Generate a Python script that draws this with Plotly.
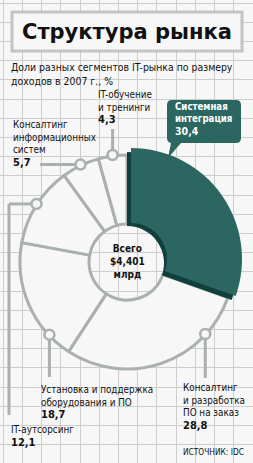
import math
import plotly.graph_objects as go

# ---------------- data ----------------
segments = [
    "Системная\nинтеграция",
    "Консалтинг\nи разработка\nПО на заказ",
    "Установка и поддержка\nоборудования и ПО",
    "IT-аутсорсинг",
    "Консалтинг\nинформационных\nсистем",
    "IT-обучение\nи тренинги",
]
shares = [30.4, 28.8, 18.7, 12.1, 5.7, 4.3]
total_lines = ["Всего", "$4,401", "млрд"]
title_text = "Структура рынка"
subtitle_lines = ["Доли разных сегментов IT-рынка по размеру", "доходов в 2007 г., %"]
source_text = "ИСТОЧНИК: IDC"

# ---------------- style / layout ----------------
W, H = 253, 463
BG = "#f7f7f7"
GRID = "#cdcdcd"
GRAY = "#a9b0ad"
TEAL = "#2b6660"
DARK = "#0f403c"
INK = "#111111"
TITLE_FONT = "DejaVu Sans, Liberation Sans, Arial, sans-serif"
COND = "DejaVu Sans Condensed, Liberation Sans, Arial, sans-serif"

CX, CY, R = 127, 262, 107      # white ring
HOLE_R = 38
TEAL_R = 111
SHIFT = (4, -4)

def dom(cx, cy, r):
    return dict(x=[(cx - r) / W, (cx + r) / W], y=[(H - cy - r) / H, (H - cy + r) / H])

fmt = [f"{v:.1f}".replace(".", ",") for v in shares]
n = len(shares)
clear = "rgba(0,0,0,0)"

fig = go.Figure()
fig.add_trace(go.Pie(
    values=shares, labels=segments, sort=False, direction="clockwise", rotation=0,
    hole=HOLE_R / R, domain=dom(CX, CY, R), textinfo="none", hoverinfo="skip",
    marker=dict(colors=[clear] + [BG] * (n - 1),
                line=dict(color=[clear] + [GRAY] * (n - 1), width=[0] + [3] * (n - 1))),
    showlegend=False,
))
fig.add_trace(go.Pie(
    values=shares, labels=segments, sort=False, direction="clockwise", rotation=0,
    hole=(HOLE_R - 1) / TEAL_R, domain=dom(CX, CY + 1, TEAL_R), textinfo="none", hoverinfo="skip",
    marker=dict(colors=[DARK] + [clear] * (n - 1), line=dict(width=0)),
    showlegend=False,
))
fig.add_trace(go.Pie(
    values=shares, labels=segments, sort=False, direction="clockwise", rotation=0,
    hole=(HOLE_R - 2) / TEAL_R, domain=dom(CX + SHIFT[0], CY + 1 + SHIFT[1], TEAL_R),
    textinfo="none", hoverinfo="skip",
    marker=dict(colors=[TEAL] + [clear] * (n - 1), line=dict(width=0)),
    showlegend=False,
))

shapes = []
annotations = []

def block(x, y_first, lines, size, color=INK, anchor="left", bold_last=False, bold_all=False,
          family=COND, last_size=None):
    ls = size * 1.3
    parts = []
    for k, ln in enumerate(lines):
        last = k == len(lines) - 1
        if last and last_size:
            ln = f'<span style="font-size:{last_size}px">{ln}</span>'
        if bold_all or (bold_last and last):
            ln = f"<b>{ln}</b>"
        parts.append(ln)
    yc = y_first + (len(lines) - 1) * ls / 2
    annotations.append(dict(x=x, y=yc, xref="x", yref="y", text="<br>".join(parts),
                            showarrow=False, align=anchor,
                            font=dict(family=family, size=size, color=color),
                            xanchor=anchor, yanchor="middle"))

# title box
shapes.append(dict(type="rect", x0=12, x1=242, y0=12, y1=51, xref="x", yref="y",
                   fillcolor=BG, line=dict(color="#c4c4c4", width=3), layer="above"))
annotations.append(dict(x=127, y=31.5, xref="x", yref="y", text=f"<b>{title_text}</b>",
                        showarrow=False, font=dict(family=TITLE_FONT, size=21, color=INK),
                        xanchor="center", yanchor="middle"))
block(9, 67, subtitle_lines, 10.4)

# connectors
cum = [sum(shares[:i]) for i in range(n)]
mid_deg = [(cum[i] + shares[i] / 2) * 3.6 for i in range(n)]
anchor_deg = [None, 133, 226.5, mid_deg[3], mid_deg[4], mid_deg[5]]

def on_ring(deg):
    a = math.radians(deg)
    return CX + R * math.sin(a), CY - R * math.cos(a) - 1

def seg(x0, y0, x1, y1):
    shapes.append(dict(type="line", x0=x0, y0=y0, x1=x1, y1=y1, xref="x", yref="y",
                       line=dict(color=GRAY, width=3), layer="above"))

label_pos = {
    1: dict(x=181, y0=388, lead=[("v", 378)]),
    2: dict(x=39, y0=390, lead=[("v", 377)]),
    3: dict(x=9, y0=430, lead=[("h", 9), ("v", 415)]),
    4: dict(x=11, y0=125, lead=[("h", 40)]),
    5: dict(x=96, y0=95, lead=[("v", 129)]),
}
for i, cfg in label_pos.items():
    px, py = on_ring(anchor_deg[i])
    x, y = px, py
    for kind, val in cfg["lead"]:
        if kind == "v":
            seg(x, y, x, val); y = val
        else:
            seg(x, y, val, y); x = val
    shapes.append(dict(type="circle", x0=px - 5, x1=px + 5, y0=py - 5, y1=py + 5, xref="x", yref="y",
                       fillcolor=BG, line=dict(color=GRAY, width=2.5), layer="above"))
    block(cfg["x"], cfg["y0"], segments[i].split("\n") + [fmt[i]], 9.8, bold_last=True,
          last_size=11)

# callout
bx0, bx1, by0, by1, rr = 167, 241, 100, 143, 5
path = (f"M {bx0+rr},{by0} L {bx1-rr},{by0} Q {bx1},{by0} {bx1},{by0+rr} "
        f"L {bx1},{by1-rr} Q {bx1},{by1} {bx1-rr},{by1} L 181,{by1} L 168,158 L 171,{by1} "
        f"L {bx0+rr},{by1} Q {bx0},{by1} {bx0},{by1-rr} L {bx0},{by0+rr} Q {bx0},{by0} {bx0+rr},{by0} Z")
shapes.append(dict(type="path", path=path, xref="x", yref="y", fillcolor=TEAL,
                   line=dict(width=0), layer="above"))
block(173, 107, segments[0].split("\n") + [fmt[0]], 9.6, color="white", bold_all=True,
      last_size=10.5)

# total
block(127, 248, total_lines, 10, anchor="center", bold_all=True)

annotations.append(dict(x=246, y=452, xref="x", yref="y", text=source_text, showarrow=False,
                        font=dict(family=COND, size=8.3, color=INK),
                        xanchor="right", yanchor="middle"))

fig.update_layout(
    width=W, height=H, margin=dict(l=0, r=0, t=0, b=0),
    paper_bgcolor=BG, plot_bgcolor=BG,
    xaxis=dict(range=[0, W], domain=[0, 1], showgrid=True, gridcolor=GRID, gridwidth=1,
               tick0=3.3, dtick=19.2, showticklabels=False, zeroline=False, fixedrange=True),
    yaxis=dict(range=[H, 0], domain=[0, 1], showgrid=True, gridcolor=GRID, gridwidth=1,
               tick0=3, dtick=19.2, showticklabels=False, zeroline=False, fixedrange=True),
    shapes=shapes, annotations=annotations, showlegend=False,
)
fig.write_html("out.html")
